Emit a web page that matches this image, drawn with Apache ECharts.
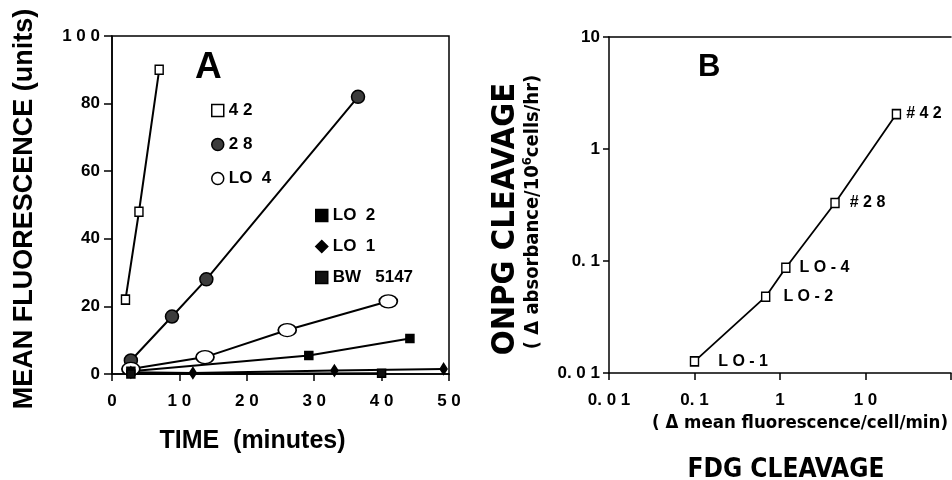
<!DOCTYPE html>
<html><head><meta charset="utf-8">
<script src="https://cdn.jsdelivr.net/npm/echarts@6/dist/echarts.min.js"></script>
<style>html,body{margin:0;padding:0;background:#fff}#c{width:952px;height:480px}</style>
</head><body><div id="c"></div>
<script>
// ---------- Panel A: TIME (minutes) vs MEAN FLUORESCENCE (units) ----------
const seriesNamesA = ['42', '28', 'LO 4', 'LO 2', 'LO 1', 'BW 5147'];
const legendTextA  = ['4 2', '2 8', 'LO  4', 'LO  2', 'LO  1', 'BW   5147'];
const s42  = [[2, 22], [4, 48], [7, 90]];
const s28  = [[2.8, 4], [8.9, 17], [14, 28], [36.5, 82]];
const sLO4 = [[2.8, 1.5], [13.8, 5], [26, 13], [41, 21.5]];
const sLO2 = [[2.8, 0.8], [29.2, 5.5], [44.2, 10.5]];
const sLO1 = [[2.8, 0.5], [12, 0.3], [33, 1], [49.2, 1.5]];
const sBW  = [[2.8, 0], [40, 0.2]];
const xTicksA = ['0', '1 0', '2 0', '3 0', '4 0', '5 0'];
const yTicksA = ['0', '20', '40', '60', '80', '1 0 0'];

// ---------- Panel B: FDG cleavage vs ONPG cleavage (log-log) ----------
const pointNamesB  = ['LO-1', 'LO-2', 'LO-4', '#28', '#42'];
const pointLabelsB = ['L O - 1', 'L O - 2', 'L O - 4', '# 2 8', '# 4 2'];
const fdgB  = [0.1, 0.68, 1.17, 4.4, 23];
const onpgB = [0.0127, 0.048, 0.087, 0.33, 2.05];
const xTicksB = ['0. 0 1', '0. 1', '1', '1 0', ''];
const yTicksB = ['0. 0 1', '0. 1', '1', '10'];

const FONT = '"Liberation Sans", Arial, Helvetica, sans-serif';
const NARROW = '"Liberation Sans Narrow", "DejaVu Sans Condensed", "Liberation Sans", sans-serif';
const BLACK = '#000';

const chart = echarts.init(document.getElementById('c'), null, {renderer: 'canvas'});

const lab = (size) => ({color: BLACK, fontWeight: 'bold', fontSize: size, fontFamily: FONT});
const axisLineStyle = {show: true, onZero: false, lineStyle: {color: BLACK, width: 1.5}};
const tickStyle = (len) => ({show: true, inside: false, length: len, lineStyle: {color: BLACK, width: 1.5}});

const markerStyles = {
  '42':      {symbol: 'rect', size: [8, 9], fill: '#fff'},
  '28':      {symbol: 'circle', size: 13, fill: '#3c3c3c'},
  'LO 4':    {symbol: 'circle', size: [18, 13], fill: '#fff'},
  'LO 2':    {symbol: 'rect', size: 8, fill: '#000'},
  'LO 1':    {symbol: 'diamond', size: [7, 11], fill: '#000'},
  'BW 5147': {symbol: 'rect', size: 8, fill: '#111'}
};
const dataA = {'42': s42, '28': s28, 'LO 4': sLO4, 'LO 2': sLO2, 'LO 1': sLO1, 'BW 5147': sBW};

const seriesA = seriesNamesA.map(n => ({
  name: n, type: 'line', xAxisIndex: 0, yAxisIndex: 0,
  data: dataA[n], clip: false,
  symbol: markerStyles[n].symbol, symbolSize: markerStyles[n].size,
  lineStyle: {color: BLACK, width: 2},
  itemStyle: {color: markerStyles[n].fill, borderColor: BLACK, borderWidth: 1.5},
  emphasis: {disabled: true}, z: 3
}));

const legendItem = (n) => ({
  name: n,
  icon: markerStyles[n].symbol,
  itemStyle: {color: markerStyles[n].fill, borderColor: BLACK, borderWidth: 1.5}
});

const seriesB = {
  name: 'FDG vs ONPG', type: 'line', xAxisIndex: 1, yAxisIndex: 1,
  data: fdgB.map((x, i) => ({
    name: pointNamesB[i], value: [x, onpgB[i]],
    label: {show: true, position: 'right', distance: [19, 13, 9, 10, 5][i],
            formatter: pointLabelsB[i]}
  })),
  symbol: 'rect', symbolSize: [8, 9],
  lineStyle: {color: BLACK, width: 1.8},
  itemStyle: {color: '#fff', borderColor: BLACK, borderWidth: 1.5},
  label: lab(16),
  emphasis: {disabled: true}, clip: false
};

const logIdx = (v, minExp) => Math.round(Math.log10(v)) - minExp;

chart.setOption({
  animation: false,
  backgroundColor: '#fff',
  title: [
    {text: 'A', left: 190, top: 44, textStyle: {fontSize: 37, fontWeight: 'bold', color: BLACK, fontFamily: FONT}},
    {text: 'B', left: 693, top: 47, textStyle: {fontSize: 31, fontWeight: 'bold', color: BLACK, fontFamily: FONT}}
  ],
  legend: [
    {orient: 'vertical', left: 206, top: 97, itemWidth: 12, itemHeight: 12, itemGap: 17,
     data: seriesNamesA.slice(0, 3).map(legendItem),
     formatter: n => legendTextA[seriesNamesA.indexOf(n)], textStyle: lab(17), selectedMode: false},
    {orient: 'vertical', left: 310, top: 202, itemWidth: 12, itemHeight: 12, itemGap: 14,
     data: seriesNamesA.slice(3).map(legendItem),
     formatter: n => legendTextA[seriesNamesA.indexOf(n)], textStyle: lab(17), selectedMode: false}
  ],
  grid: [
    {left: 112, top: 36, width: 337, height: 338, outerBoundsMode: 'none', containLabel: false,
     show: true, borderColor: BLACK, borderWidth: 1.5, backgroundColor: 'transparent'},
    {left: 609, top: 37, width: 342, height: 336, outerBoundsMode: 'none', containLabel: false}
  ],
  xAxis: [
    {gridIndex: 0, type: 'value', min: 0, max: 50, interval: 10,
     axisLine: axisLineStyle, axisTick: tickStyle(7), splitLine: {show: false},
     axisLabel: Object.assign(lab(17), {margin: 19, formatter: v => xTicksA[Math.round(v / 10)]}),
     name: 'TIME  (minutes)', nameLocation: 'middle', nameGap: 55,
     nameTextStyle: Object.assign(lab(25), {padding: [0, 56, 0, 0]})},
    {gridIndex: 1, type: 'log', logBase: 10, min: 0.01, max: 100,
     axisLine: axisLineStyle, axisTick: tickStyle(7), splitLine: {show: false}, minorTick: {show: false},
     axisLabel: Object.assign(lab(17), {margin: 19, formatter: v => xTicksB[logIdx(v, -2)]}),
     name: '{s|( Δ mean fluorescence/cell/min)}\n{t|FDG CLEAVAGE}', nameLocation: 'middle', nameGap: 20,
     nameTextStyle: {rich: {
       s: {fontSize: 18.5, fontWeight: 'bold', fontFamily: NARROW, color: BLACK, lineHeight: 50, padding: [0, 0, 0, 40]},
       t: {fontSize: 26, fontWeight: 'bold', fontFamily: NARROW, color: BLACK, lineHeight: 44, padding: [0, 0, 0, 12]}
     }}},
    {gridIndex: 1, type: 'log', logBase: 10, min: 0.01, max: 100, position: 'top',
     axisLine: axisLineStyle, axisTick: {show: false}, axisLabel: {show: false}, splitLine: {show: false}}
  ],
  yAxis: [
    {gridIndex: 0, type: 'value', min: 0, max: 100, interval: 20,
     axisLine: axisLineStyle, axisTick: tickStyle(8), splitLine: {show: false},
     axisLabel: Object.assign(lab(17), {margin: 12, formatter: v => yTicksA[Math.round(v / 20)]}),
     name: 'MEAN FLUORESCENCE (units)', nameLocation: 'middle', nameGap: 74,
     nameTextStyle: Object.assign(lab(27), {padding: [0, 8, 0, 0]})},
    {gridIndex: 1, type: 'log', logBase: 10, min: 0.01, max: 10,
     axisLine: axisLineStyle, axisTick: tickStyle(6), splitLine: {show: false}, minorTick: {show: false},
     axisLabel: Object.assign(lab(17), {margin: 9, formatter: v => yTicksB[logIdx(v, -2)]}),
     name: '{t|ONPG CLEAVAGE}\n{s|( Δ absorbance/10}{u|6}{e|cells/hr)}', nameLocation: 'middle', nameGap: 64,
     nameTextStyle: {rich: {
       t: {fontSize: 32.5, fontWeight: 'bold', fontFamily: NARROW, color: BLACK, lineHeight: 30, padding: [0, 28, 0, 0]},
       s: {fontSize: 20, fontWeight: 'bold', fontFamily: NARROW, color: BLACK, lineHeight: 24},
       u: {fontSize: 13, fontWeight: 'bold', fontFamily: NARROW, color: BLACK, lineHeight: 24, verticalAlign: 'top'},
       e: {fontSize: 20, fontWeight: 'bold', fontFamily: NARROW, color: BLACK, lineHeight: 24, padding: [0, 14, 0, 0]}
     }}}
  ],
  series: seriesA.concat([seriesB])
});
</script>
</body></html>
